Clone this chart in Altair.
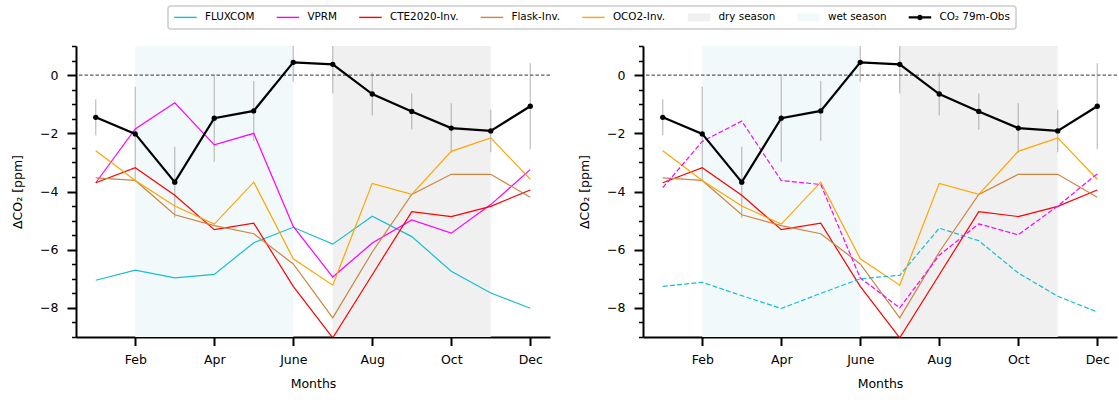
import altair as alt
import pandas as pd

# ---------------- data ----------------
MONTHS = [1, 2, 3, 4, 5, 6, 7, 8, 9, 10, 11, 12]
MONTH_NAMES = ["Jan", "Feb", "Mar", "Apr", "May", "June", "July", "Aug", "Sep", "Oct", "Nov", "Dec"]
TICK_MONTHS = [2, 4, 6, 8, 10, 12]
Y_MAJOR = [-8, -6, -4, -2, 0]
Y_MINOR = [-9, -8.5, -7.5, -7, -6.5, -5.5, -5, -4.5, -3.5, -3, -2.5, -1.5, -1, -0.5, 0.5, 1]
Y_DOMAIN = [-9, 1]
X_DOMAIN = [0.5, 12.5]

OBS = [-1.45, -2.02, -3.68, -1.48, -1.23, 0.44, 0.37, -0.65, -1.25, -1.82, -1.92, -1.07]
OBS_ERR = [0.62, 1.62, 1.22, 1.50, 1.03, 0.67, 1.00, 0.74, 0.62, 0.85, 0.73, 1.48]

FLUXCOM_L = [-7.05, -6.70, -6.97, -6.85, -5.76, -5.23, -5.81, -4.85, -5.55, -6.74, -7.49, -8.01]
VPRM_L = [-3.70, -1.85, -0.95, -2.40, -2.00, -5.20, -6.94, -5.77, -4.98, -5.43, -4.45, -3.25]
CTE2020 = [-3.70, -3.18, -4.13, -5.31, -5.09, -7.26, -9.03, -6.86, -4.69, -4.86, -4.51, -3.95]
FLASK = [-3.53, -3.62, -4.80, -5.17, -5.45, -6.49, -8.34, -6.08, -4.10, -3.41, -3.41, -4.20]
OCO2 = [-2.60, -3.62, -4.50, -5.12, -3.68, -6.31, -7.22, -3.72, -4.10, -2.62, -2.16, -3.58]
FLUXCOM_R = [-7.26, -7.12, -7.58, -8.02, -7.50, -7.00, -6.88, -5.26, -5.69, -6.80, -7.60, -8.14]
VPRM_R = [-3.87, -2.28, -1.58, -3.62, -3.76, -6.97, -8.00, -6.19, -5.11, -5.49, -4.50, -3.39]

SEASON_NAMES = ["wet season", "dry season"]
SEASON_START = [2, 7]
SEASON_END = [6, 11]

SERIES = ["FLUXCOM", "VPRM", "CTE2020-Inv.", "Flask-Inv.", "OCO2-Inv.",
          "dry season", "wet season", "CO₂ 79m-Obs"]
COLORS = ["#17becf", "#ff00ff", "#ff0000", "#cd853f", "#ffa500",
          "#f0f0f0", "#f2f9fa", "#000000"]
OBS_NAME = "CO₂ 79m-Obs"


def long_frame(names, arrays):
    rows = []
    for n, arr in zip(names, arrays):
        for m, v in zip(MONTHS, arr):
            rows.append({"month": m, "series": n, "value": v})
    return pd.DataFrame(rows)


obs_df = pd.DataFrame({
    "month": MONTHS,
    "value": OBS,
    "lo": [v - e for v, e in zip(OBS, OBS_ERR)],
    "hi": [v + e for v, e in zip(OBS, OBS_ERR)],
    "series": [OBS_NAME] * len(MONTHS),
})
season_df = pd.DataFrame({
    "series": SEASON_NAMES,
    "start": SEASON_START,
    "end": SEASON_END,
    "top": [Y_DOMAIN[1]] * 2,
    "bottom": [Y_DOMAIN[0]] * 2,
})
zero_df = pd.DataFrame({"value": [0]})

left_solid = long_frame(["FLUXCOM", "VPRM", "CTE2020-Inv.", "Flask-Inv.", "OCO2-Inv."],
                        [FLUXCOM_L, VPRM_L, CTE2020, FLASK, OCO2])
right_solid = long_frame(["CTE2020-Inv.", "Flask-Inv.", "OCO2-Inv."], [CTE2020, FLASK, OCO2])
right_dashed = long_frame(["FLUXCOM", "VPRM"], [FLUXCOM_R, VPRM_R])

# ---------------- scales / guides ----------------
PADL = 11
x_scale = alt.Scale(domain=X_DOMAIN, nice=False, zero=False)
y_scale = alt.Scale(domain=Y_DOMAIN, nice=False, zero=False)
name_list = "[" + ",".join("'" + n + "'" for n in MONTH_NAMES) + "]"
x_axis = alt.Axis(values=TICK_MONTHS, labelExpr=name_list + "[datum.value - 1]",
                  title="Months", grid=False, tickSize=8.5, tickWidth=2, domainWidth=2,
                  labelPadding=8, titlePadding=11)
major_axis = alt.Axis(values=Y_MAJOR, labelExpr="replace(datum.label, '-', '−')",
                      title="ΔCO₂ [ppm]", grid=False, tickSize=9, tickWidth=2,
                      domainWidth=2, labelPadding=9, titlePadding=15, orient="left")
minor_axis = alt.Axis(values=Y_MINOR, labels=False, title=None, grid=False, tickSize=4.5,
                      tickWidth=1.5, domain=False, orient="left")

is_patch = "(datum.value == 'dry season' || datum.value == 'wet season')"
shape_expr = (is_patch + " ? 'M-1,-0.8H3.5V0.8H-1Z' : (datum.value == '" + OBS_NAME +
              "' ? 'M-1,-0.22H3.5V0.22H-1ZM0.7,0A0.55,0.55 0 1,1 1.8,0A0.55,0.55 0 1,1 0.7,0Z'"
              " : 'M-1,-0.14H3.5V0.14H-1Z')")
legend = alt.Legend(
    orient="none", legendX=92, legendY=-40, direction="horizontal", columns=8,
    title=None, symbolType=alt.ExprRef(expr=shape_expr), symbolSize=100,
    symbolFillColor=alt.ExprRef(expr="scale('color', datum.value)"),
    symbolStrokeColor=alt.ExprRef(expr="scale('color', datum.value)"),
    symbolStrokeWidth=0, symbolOpacity=1, labelOffset=20.5, columnPadding=21.5,
    padding=6, strokeColor="#cccccc", fillColor="white", cornerRadius=3,
    labelFontSize=10.4, labelColor="black", labelFont="DejaVu Sans",
)
color_scale = alt.Scale(domain=SERIES, range=COLORS)


def X(field):
    return alt.X(field + ":Q", scale=x_scale, axis=x_axis, title="Months")


def panel(solid_df, dashed_df):
    layers = []
    layers.append(alt.Chart(season_df).mark_rect(opacity=1).encode(
        x=X("start"), x2="end:Q",
        y=alt.Y("top:Q", scale=y_scale, axis=None), y2="bottom:Q",
        color=alt.Color("series:N", scale=color_scale, legend=legend)))
    layers.append(alt.Chart(zero_df).mark_rule(color="black", strokeWidth=0.8,
                                               strokeDash=[3.5, 2]).encode(
        y=alt.Y("value:Q", scale=y_scale, axis=minor_axis)))
    layers.append(alt.Chart(obs_df).mark_rule(color="gray", opacity=0.5, strokeWidth=1.2,
                                              clip=True).encode(
        x=X("month"), y=alt.Y("lo:Q", scale=y_scale, axis=None), y2="hi:Q"))
    layers.append(alt.Chart(solid_df).mark_line(strokeWidth=1.2, clip=True).encode(
        x=X("month"), y=alt.Y("value:Q", scale=y_scale, axis=None),
        color=alt.Color("series:N", scale=color_scale, legend=legend)))
    if dashed_df is not None:
        layers.append(alt.Chart(dashed_df).mark_line(strokeWidth=1.2, strokeDash=[5, 2.2],
                                                      clip=True).encode(
            x=X("month"), y=alt.Y("value:Q", scale=y_scale, axis=None),
            color=alt.Color("series:N", scale=color_scale, legend=legend)))
    layers.append(alt.Chart(obs_df).mark_line(strokeWidth=2.2).encode(
        x=X("month"), y=alt.Y("value:Q", scale=y_scale, axis=major_axis),
        color=alt.Color("series:N", scale=color_scale, legend=legend)))
    layers.append(alt.Chart(obs_df).mark_circle(size=28, color="black", opacity=1).encode(
        x=X("month"), y=alt.Y("value:Q", scale=y_scale, axis=None)))
    return alt.layer(*layers).resolve_axis(y="independent").properties(width=474, height=291)


chart = alt.hconcat(panel(left_solid, None), panel(right_solid, right_dashed), spacing=27)
chart = chart.properties(
    padding={"left": PADL, "top": 5, "right": 0, "bottom": 5},
).configure_view(stroke=None).configure_axis(
    labelFont="DejaVu Sans", titleFont="DejaVu Sans", labelFontSize=12.5, titleFontSize=12.5,
    titleFontWeight="normal", labelColor="black", titleColor="black",
    domainColor="black", tickColor="black",
).configure_legend(strokeWidth=1.5)

chart.save("out.html", embed_options={"renderer": "svg", "actions": False})
